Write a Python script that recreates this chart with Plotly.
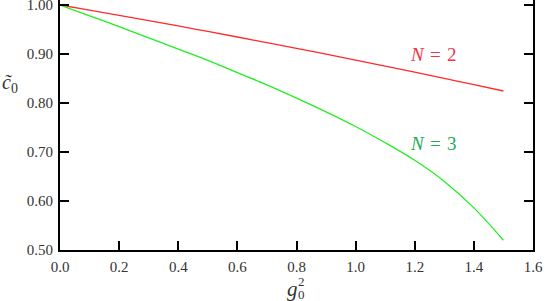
import plotly.graph_objects as go

g2 = [0.0, 0.1, 0.2, 0.3, 0.4, 0.5, 0.6, 0.7, 0.8, 0.9, 1.0, 1.1, 1.2, 1.3, 1.4, 1.5]
c0_n2 = [1.000, 0.9896, 0.9789, 0.9682, 0.9572, 0.9460, 0.9347, 0.9232, 0.9115,
         0.8996, 0.8875, 0.8753, 0.8628, 0.8502, 0.8374, 0.8245]
c0_n3 = [1.000, 0.978, 0.956, 0.933, 0.910, 0.887, 0.862, 0.837, 0.810,
         0.782, 0.752, 0.719, 0.683, 0.640, 0.586, 0.520]
x_ticks = [0.0, 0.2, 0.4, 0.6, 0.8, 1.0, 1.2, 1.4, 1.6]
y_ticks = [0.50, 0.60, 0.70, 0.80, 0.90, 1.00]

FONT = "Liberation Serif"
TXT = "#333333"
SP = "\u2005\u200a"

fig = go.Figure()
fig.add_trace(go.Scatter(x=g2, y=c0_n2, mode="lines", line=dict(color="#ff2a2a", width=1.3),
                         line_shape="spline", showlegend=False))
fig.add_trace(go.Scatter(x=g2, y=c0_n3, mode="lines", line=dict(color="#22ee22", width=1.3),
                         line_shape="spline", showlegend=False))

axis_common = dict(showgrid=False, zeroline=False, showline=True, linecolor="black", linewidth=2,
                   ticks="inside", ticklen=9, tickwidth=2, tickcolor="black",
                   automargin=False, ticklabeloverflow="allow",
                   tickfont=dict(family=FONT, size=15, color=TXT))

fig.update_layout(
    width=545, height=301,
    margin=dict(l=60, r=12, t=0, b=51, autoexpand=False),
    paper_bgcolor="white", plot_bgcolor="white",
    font=dict(family=FONT, size=15, color=TXT),
    xaxis=dict(range=[0, 1.6], tickvals=x_ticks, tickformat=".1f", mirror=False,
               ticklabelstandoff=2, **axis_common),
    yaxis=dict(range=[0.5, 1.0102], tickvals=y_ticks, tickformat=".2f", mirror="ticks",
               ticklabelstandoff=2, **axis_common),
    annotations=[
        dict(text=f"<i>N</i>{SP}={SP}2", x=1.262, y=0.898, xref="x", yref="y", showarrow=False,
             font=dict(family=FONT, size=19, color="#ee3344")),
        dict(text=f"<i>N</i>{SP}={SP}3", x=1.262, y=0.718, xref="x", yref="y", showarrow=False,
             font=dict(family=FONT, size=19, color="#22aa55")),
        dict(text="<i>c\u0303</i><sub>0</sub>", x=-0.106, y=0.664, xref="paper", yref="paper",
             xanchor="center", yanchor="middle",
             showarrow=False, font=dict(family=FONT, size=20, color=TXT)),
        dict(text="<i>g</i>", x=0.4915, y=-0.155, xref="paper", yref="paper", showarrow=False,
             xanchor="center", yanchor="middle", font=dict(family=FONT, size=21, color=TXT)),
        dict(text="2", x=0.4995, y=-0.124, xref="paper", yref="paper", showarrow=False,
             xanchor="left", yanchor="middle", font=dict(family=FONT, size=13, color=TXT)),
        dict(text="0", x=0.4995, y=-0.176, xref="paper", yref="paper", showarrow=False,
             xanchor="left", yanchor="middle", font=dict(family=FONT, size=13, color=TXT)),
    ],
)

fig.write_html("out.html", config={"displayModeBar": False},
               post_script="document.body.style.margin='0';document.body.style.overflow='hidden';")
